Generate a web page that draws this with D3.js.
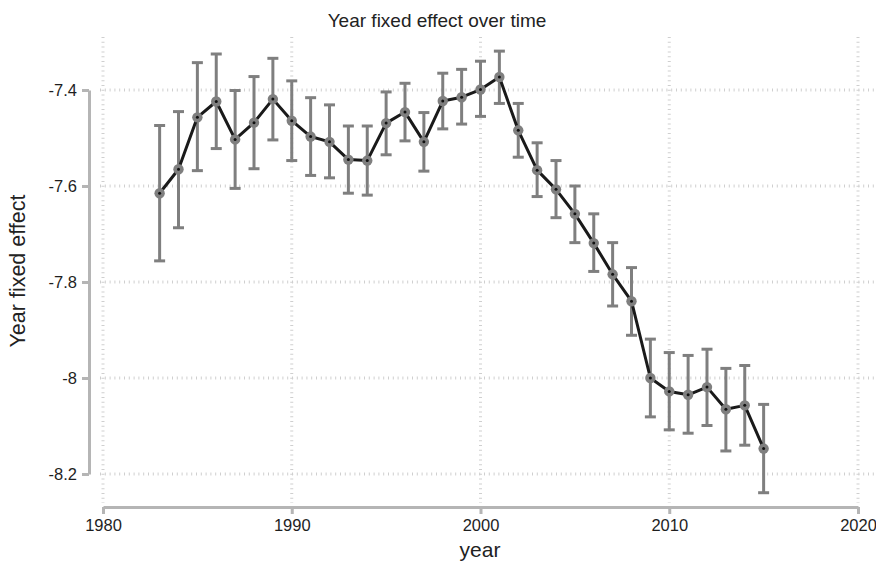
<!DOCTYPE html>
<html>
<head>
<meta charset="utf-8">
<script src="https://cdn.jsdelivr.net/npm/d3@7"></script>
<style>
  body { margin: 0; background: #fff; }
  text { font-family: "Liberation Sans", Arial, Helvetica, sans-serif; fill: #222; }
</style>
</head>
<body>
<div id="chart"></div>
<script>
var years = [1983, 1984, 1985, 1986, 1987, 1988, 1989, 1990, 1991, 1992, 1993,
             1994, 1995, 1996, 1997, 1998, 1999, 2000, 2001, 2002, 2003, 2004,
             2005, 2006, 2007, 2008, 2009, 2010, 2011, 2012, 2013, 2014, 2015];

var estimate = [-7.615, -7.565, -7.457, -7.424, -7.503, -7.468, -7.419, -7.464, -7.497, -7.508, -7.545,
                -7.547, -7.469, -7.446, -7.508, -7.423, -7.415, -7.399, -7.373, -7.484, -7.567, -7.607,
                -7.658, -7.719, -7.784, -7.840, -8.000, -8.028, -8.035, -8.019, -8.065, -8.057, -8.147];

var upper = [-7.474, -7.445, -7.343, -7.325, -7.401, -7.372, -7.334, -7.381, -7.416, -7.431, -7.475,
             -7.475, -7.404, -7.386, -7.447, -7.365, -7.357, -7.340, -7.319, -7.428, -7.510, -7.547,
             -7.600, -7.658, -7.718, -7.770, -7.919, -7.947, -7.953, -7.940, -7.980, -7.974, -8.055];

var lower = [-7.756, -7.687, -7.568, -7.522, -7.605, -7.564, -7.504, -7.547, -7.578, -7.583, -7.615,
             -7.619, -7.535, -7.506, -7.569, -7.481, -7.471, -7.455, -7.428, -7.540, -7.622, -7.666,
             -7.718, -7.778, -7.850, -7.911, -8.081, -8.108, -8.115, -8.099, -8.152, -8.140, -8.239];

var xTicks = [1980, 1990, 2000, 2010, 2020];
var yTicks = [-8.2, -8, -7.8, -7.6, -7.4];

function init() {
    var w = 876, h = 562;

    var data = years.map(function(y, i) {
        return { year: y, est: estimate[i], hi: upper[i], lo: lower[i] };
    });

    var x = d3.scaleLinear().domain([1980, 2020]).range([103, 858]);
    var y = d3.scaleLinear().domain([-8.2, -7.4]).range([474, 90]);

    var svg = d3.select("#chart")
                .append("svg")
                .attr("width", w)
                .attr("height", h);

    var gridColor = "#cfcfcf";
    var axisColor = "#b5b5b5";

    // dotted grid
    svg.append("g").selectAll("line")
       .data(yTicks)
       .enter()
       .append("line")
       .attr("x1", 100).attr("x2", w)
       .attr("y1", function(d) { return y(d); })
       .attr("y2", function(d) { return y(d); })
       .style("stroke", gridColor)
       .style("stroke-width", 3)
       .style("stroke-dasharray", "1,3.8");

    svg.append("g").selectAll("line")
       .data(xTicks)
       .enter()
       .append("line")
       .attr("x1", function(d) { return x(d); })
       .attr("x2", function(d) { return x(d); })
       .attr("y1", 37).attr("y2", 503)
       .style("stroke", gridColor)
       .style("stroke-width", 3)
       .style("stroke-dasharray", "1,3.8");

    // axes
    var yAxis = d3.axisLeft(y)
                  .tickValues(yTicks)
                  .tickFormat(function(d) { return String(d); })
                  .tickSize(7)
                  .tickSizeOuter(0)
                  .tickPadding(5);

    var xAxis = d3.axisBottom(x)
                  .tickValues(xTicks)
                  .tickFormat(function(d) { return String(d); })
                  .tickSize(7)
                  .tickSizeOuter(0)
                  .tickPadding(5);

    var gy = svg.append("g").attr("transform", "translate(89,0)").call(yAxis);
    var gx = svg.append("g").attr("transform", "translate(0,507)").call(xAxis);

    [gy, gx].forEach(function(g) {
        g.select(".domain").style("stroke", axisColor).style("stroke-width", 3);
        g.selectAll(".tick line").style("stroke", axisColor).style("stroke-width", 3);
        g.selectAll(".tick text")
         .style("font-family", "'Liberation Sans', Arial, Helvetica, sans-serif")
         .style("font-size", "16.5px")
         .style("fill", "#1e1e1e");
    });

    // error bars
    var bars = svg.append("g");
    bars.selectAll("line.v")
        .data(data)
        .enter()
        .append("line")
        .attr("class", "v")
        .attr("x1", function(d) { return x(d.year); })
        .attr("x2", function(d) { return x(d.year); })
        .attr("y1", function(d) { return y(d.hi); })
        .attr("y2", function(d) { return y(d.lo); })
        .style("stroke", "#7f7f7f")
        .style("stroke-width", 3);

    ["hi", "lo"].forEach(function(k) {
        bars.selectAll("line.cap" + k)
            .data(data)
            .enter()
            .append("line")
            .attr("class", "cap" + k)
            .attr("x1", function(d) { return x(d.year) - 5.5; })
            .attr("x2", function(d) { return x(d.year) + 5.5; })
            .attr("y1", function(d) { return y(d[k]); })
            .attr("y2", function(d) { return y(d[k]); })
            .style("stroke", "#7f7f7f")
            .style("stroke-width", 3);
    });

    // connecting line
    var line = d3.line()
                 .x(function(d) { return x(d.year); })
                 .y(function(d) { return y(d.est); });

    svg.append("path")
       .datum(data)
       .attr("d", line)
       .style("fill", "none")
       .style("stroke", "#1a1a1a")
       .style("stroke-width", 3)
       .style("stroke-linejoin", "round");

    // markers
    svg.append("g").selectAll("circle")
       .data(data)
       .enter()
       .append("circle")
       .attr("cx", function(d) { return x(d.year); })
       .attr("cy", function(d) { return y(d.est); })
       .attr("r", 5.2)
       .style("fill", "#7f7f7f");

    svg.append("g").selectAll("circle")
       .data(data)
       .enter()
       .append("circle")
       .attr("cx", function(d) { return x(d.year); })
       .attr("cy", function(d) { return y(d.est); })
       .attr("r", 1.5)
       .style("fill", "#111");

    // titles
    svg.append("text")
       .attr("x", 437)
       .attr("y", 27)
       .attr("text-anchor", "middle")
       .style("font-size", "19px")
       .text("Year fixed effect over time");

    svg.append("text")
       .attr("transform", "translate(25,271) rotate(-90)")
       .attr("text-anchor", "middle")
       .style("font-size", "21.5px")
       .text("Year fixed effect");

    svg.append("text")
       .attr("x", 480)
       .attr("y", 557)
       .attr("text-anchor", "middle")
       .style("font-size", "21px")
       .text("year");
}

window.onload = init;
</script>
</body>
</html>
